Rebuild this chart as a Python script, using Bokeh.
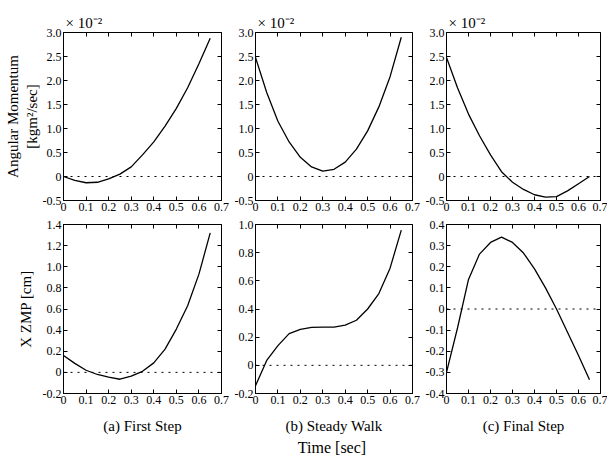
from bokeh.plotting import figure
from bokeh.models import FixedTicker, LinearAxis, Span, Title, CustomLabelingPolicy
from bokeh.layouts import gridplot
from bokeh.embed import file_html
from bokeh.resources import INLINE

FONT = "Liberation Serif"

# ---- data ----
time_s = [0.0, 0.05, 0.1, 0.15, 0.2, 0.25, 0.3, 0.35, 0.4, 0.45, 0.5, 0.55, 0.6, 0.65]

# angular momentum, x 10^-2 kgm^2/sec
am_first = [0.0, -0.08, -0.13, -0.12, -0.05, 0.05, 0.2, 0.45, 0.72, 1.05, 1.42, 1.85, 2.35, 2.88]
am_steady = [2.48, 1.75, 1.15, 0.72, 0.40, 0.2, 0.11, 0.15, 0.3, 0.57, 0.95, 1.45, 2.08, 2.9]
am_final = [2.48, 1.85, 1.3, 0.85, 0.45, 0.1, -0.12, -0.27, -0.38, -0.43, -0.42, -0.3, -0.15, 0.0]

# X_ZMP, cm
zmp_first = [0.16, 0.085, 0.02, -0.02, -0.045, -0.065, -0.035, 0.01, 0.09, 0.22, 0.41, 0.63, 0.93, 1.32]
zmp_steady = [-0.145, 0.035, 0.14, 0.225, 0.255, 0.27, 0.272, 0.272, 0.285, 0.32, 0.40, 0.51, 0.69, 0.96]
zmp_final = [-0.3, -0.09, 0.14, 0.26, 0.315, 0.34, 0.315, 0.265, 0.19, 0.10, 0.0, -0.11, -0.22, -0.335]

# ticks / labels
x_ticks = [0.0, 0.1, 0.2, 0.3, 0.4, 0.5, 0.6, 0.7]
x_labels = ["0", "0.1", "0.2", "0.3", "0.4", "0.5", "0.6", "0.7"]

am_ticks = [-0.5, 0.0, 0.5, 1.0, 1.5, 2.0, 2.5, 3.0]
am_labels = ["-0.5", "0", "0.5", "1.0", "1.5", "2.0", "2.5", "3.0"]

zf_ticks = [-0.2, 0.0, 0.2, 0.4, 0.6, 0.8, 1.0, 1.2, 1.4]
zf_labels = ["-0.2", "0", "0.2", "0.4", "0.6", "0.8", "1.0", "1.2", "1.4"]

zs_ticks = [-0.2, 0.0, 0.2, 0.4, 0.6, 0.8, 1.0]
zs_labels = ["-0.2", "0", "0.2", "0.4", "0.6", "0.8", "1.0"]

zc_ticks = [-0.4, -0.3, -0.2, -0.1, 0.0, 0.1, 0.2, 0.3, 0.4]
zc_labels = ["-0.4", "-0.3", "-0.2", "-0.1", "0", "0.1", "0.2", "0.3", "0.4"]

captions = ["(a) First Step", "(b) Steady Walk", "(c) Final Step"]

# ---- layout geometry ----
col_w = [231, 191, 185]
col_bl = [63, 21, 20]
col_br = [10, 10, 7]
row_h = [216, 242]
row_bt = [32, 8]
row_bb = [16, 65]


def style_axis(ax, size="12px"):
    ax.major_label_text_font = FONT
    ax.major_label_text_font_size = size
    ax.major_label_text_color = "black"
    ax.major_label_standoff = 2
    ax.major_tick_in = 4
    ax.major_tick_out = 0
    ax.minor_tick_line_color = None
    ax.axis_line_color = "black"
    ax.major_tick_line_color = "black"
    ax.axis_label_text_font = FONT
    ax.axis_label_text_font_style = "normal"
    ax.axis_label_text_color = "black"


def panel(xs, ys, yticks, ylabels, col, row):
    p = figure(width=col_w[col], height=row_h[row],
               x_range=(0, 0.7), y_range=(yticks[0], yticks[-1]),
               output_backend="svg", toolbar_location=None,
               min_border_left=col_bl[col], min_border_right=col_br[col],
               min_border_top=row_bt[row], min_border_bottom=row_bb[row])
    p.grid.visible = False
    p.outline_line_color = "black"
    p.outline_line_alpha = 1
    p.background_fill_color = "white"
    p.border_fill_color = "white"

    xa = p.xaxis[0]
    ya = p.yaxis[0]
    xa.ticker = FixedTicker(ticks=x_ticks)
    xa.major_label_overrides = dict(zip(x_ticks, x_labels))
    ya.ticker = FixedTicker(ticks=yticks)
    ya.major_label_overrides = dict(zip(yticks, ylabels))
    style_axis(xa)
    style_axis(ya)

    # tick marks on the right and top sides (no labels)
    ax_r = LinearAxis(ticker=FixedTicker(ticks=yticks))
    ax_t = LinearAxis(ticker=FixedTicker(ticks=x_ticks))
    for ax in (ax_r, ax_t):
        style_axis(ax, "0px")
        ax.major_label_standoff = 0
        ax.axis_line_color = None
        ax.major_label_policy = CustomLabelingPolicy(code="return []")
    p.add_layout(ax_r, "right")
    p.add_layout(ax_t, "above")

    p.add_layout(Span(location=0, dimension="width", line_color="black",
                      line_dash="2 5", line_width=1))
    p.line(xs, ys, line_color="black", line_width=1.3)
    return p, xa, ya


def add_title(p, text, place, size, align="center", standoff=0, offset=0):
    t = Title(text=text, text_font=FONT, text_font_size=size,
              text_font_style="normal", text_color="black", align=align,
              standoff=standoff, offset=offset)
    p.add_layout(t, place)
    return t


top = [panel(time_s, am_first, am_ticks, am_labels, 0, 0),
       panel(time_s, am_steady, am_ticks, am_labels, 1, 0),
       panel(time_s, am_final, am_ticks, am_labels, 2, 0)]
bot = [panel(time_s, zmp_first, zf_ticks, zf_labels, 0, 1),
       panel(time_s, zmp_steady, zs_ticks, zs_labels, 1, 1),
       panel(time_s, zmp_final, zc_ticks, zc_labels, 2, 1)]

for p, xa, ya in top:
    add_title(p, "× 10⁻²", "above", "15px", align="left", standoff=4, offset=2)

p0, xa0, ya0 = top[0]
ya0.axis_label = "[kgm²/sec]"
ya0.axis_label_text_font_size = "15px"
ya0.axis_label_standoff = 0
add_title(p0, "Angular Momentum", "left", "15px", standoff=0)

p3, xa3, ya3 = bot[0]
ya3.axis_label = "X ZMP [cm]"
ya3.axis_label_text_font_size = "15px"
ya3.axis_label_standoff = 6

for (p, xa, ya), c in zip(bot, captions):
    xa.axis_label = c
    xa.axis_label_text_font_size = "15px"
    xa.axis_label_standoff = 11
add_title(bot[1][0], "Time  [sec]", "below", "16px", standoff=0)

grid = gridplot([[t[0] for t in top], [b[0] for b in bot]], toolbar_location=None)

open("out.html", "w").write(file_html(grid, INLINE))
